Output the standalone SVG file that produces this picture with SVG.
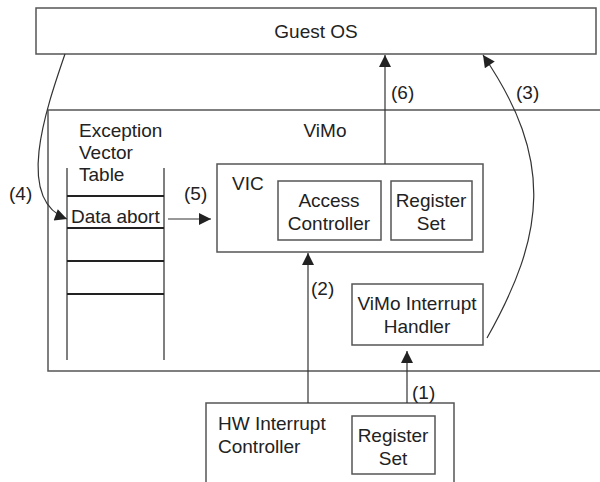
<svg xmlns="http://www.w3.org/2000/svg" width="600" height="482" viewBox="0 0 600 482">
  <style>
    .box { fill: #fff; stroke: #555; stroke-width: 1.5; }
    .frame { fill: none; stroke: #555; stroke-width: 1.5; }
    .row { stroke: #222; stroke-width: 2; }
    .edge { fill: none; stroke: #333; stroke-width: 1.2; }
    text { font-family: "Liberation Sans", Arial, sans-serif; font-size: 19px; fill: #222; }
    .mid { text-anchor: middle; }
  </style>
  <defs>
    <marker id="arrow" viewBox="0 0 10 10" refX="10" refY="5" markerWidth="13" markerHeight="12" markerUnits="userSpaceOnUse" orient="auto">
      <path d="M0,0 L10,5 L0,10 z" fill="#222"/>
    </marker>
  </defs>

  <rect width="600" height="482" fill="#fff"/>

  <!-- ViMo region (runs off the right edge) -->
  <g id="vimo">
    <path class="frame" d="M602,110 H48 V371 H602"/>
    <text x="325" y="137" class="mid">ViMo</text>
  </g>

  <!-- Guest OS -->
  <g id="guest-os">
    <rect class="box" x="36" y="8" width="560" height="46"/>
    <text x="316" y="38" class="mid">Guest OS</text>
  </g>

  <!-- Exception vector table -->
  <g id="exception-vector-table">
    <text x="79" y="137">Exception</text>
    <text x="79" y="159">Vector</text>
    <text x="79" y="181">Table</text>
    <line class="frame" x1="67" y1="168" x2="67" y2="360"/>
    <line class="frame" x1="164" y1="168" x2="164" y2="360"/>
    <line class="row" x1="67" y1="196" x2="164" y2="196"/>
    <line class="row" x1="67" y1="228" x2="164" y2="228"/>
    <line class="row" x1="67" y1="261" x2="164" y2="261"/>
    <line class="row" x1="67" y1="294" x2="164" y2="294"/>
    <text x="71" y="223">Data abort</text>
  </g>

  <!-- VIC -->
  <g id="vic">
    <rect class="box" x="217" y="164" width="266" height="88"/>
    <text x="232" y="190">VIC</text>
  </g>
  <g id="access-controller">
    <rect class="box" x="278" y="181" width="103" height="59"/>
    <text x="329" y="207" class="mid">Access</text>
    <text x="329" y="230" class="mid">Controller</text>
  </g>
  <g id="vic-register-set">
    <rect class="box" x="391" y="181" width="81" height="59"/>
    <text x="431" y="207" class="mid">Register</text>
    <text x="431" y="230" class="mid">Set</text>
  </g>

  <!-- ViMo interrupt handler -->
  <g id="vimo-interrupt-handler">
    <rect class="box" x="352" y="284" width="131" height="61"/>
    <text x="417" y="310" class="mid">ViMo Interrupt</text>
    <text x="417" y="333" class="mid">Handler</text>
  </g>

  <!-- HW interrupt controller (open at the bottom) -->
  <g id="hw-interrupt-controller">
    <path class="frame" d="M206,484 V403 H454 V484"/>
    <text x="218" y="430">HW Interrupt</text>
    <text x="218" y="453">Controller</text>
  </g>
  <g id="hw-register-set">
    <rect class="box" x="352" y="416" width="83" height="58"/>
    <text x="393" y="442" class="mid">Register</text>
    <text x="393" y="465" class="mid">Set</text>
  </g>

  <!-- Connectors -->
  <g id="connectors">
    <!-- (1) HW controller to ViMo interrupt handler -->
    <line class="edge" x1="407" y1="403" x2="407" y2="351" marker-end="url(#arrow)"/>
    <text x="412" y="399">(1)</text>
    <!-- (2) HW controller to VIC -->
    <line class="edge" x1="308" y1="403" x2="308" y2="253" marker-end="url(#arrow)"/>
    <text x="311" y="295">(2)</text>
    <!-- (3) interrupt handler to Guest OS -->
    <path class="edge" d="M487,338 C545,235 555,160 483,55" marker-end="url(#arrow)"/>
    <text x="516" y="99">(3)</text>
    <!-- (4) Guest OS to data abort vector -->
    <path class="edge" d="M65,54 C45,112 15,200 67,219" marker-end="url(#arrow)"/>
    <text x="9" y="200">(4)</text>
    <!-- (5) data abort vector to VIC -->
    <line class="edge" x1="168" y1="219" x2="211" y2="219" marker-end="url(#arrow)"/>
    <text x="184" y="200">(5)</text>
    <!-- (6) VIC to Guest OS -->
    <line class="edge" x1="385" y1="164" x2="385" y2="55" marker-end="url(#arrow)"/>
    <text x="391" y="99">(6)</text>
  </g>
</svg>
